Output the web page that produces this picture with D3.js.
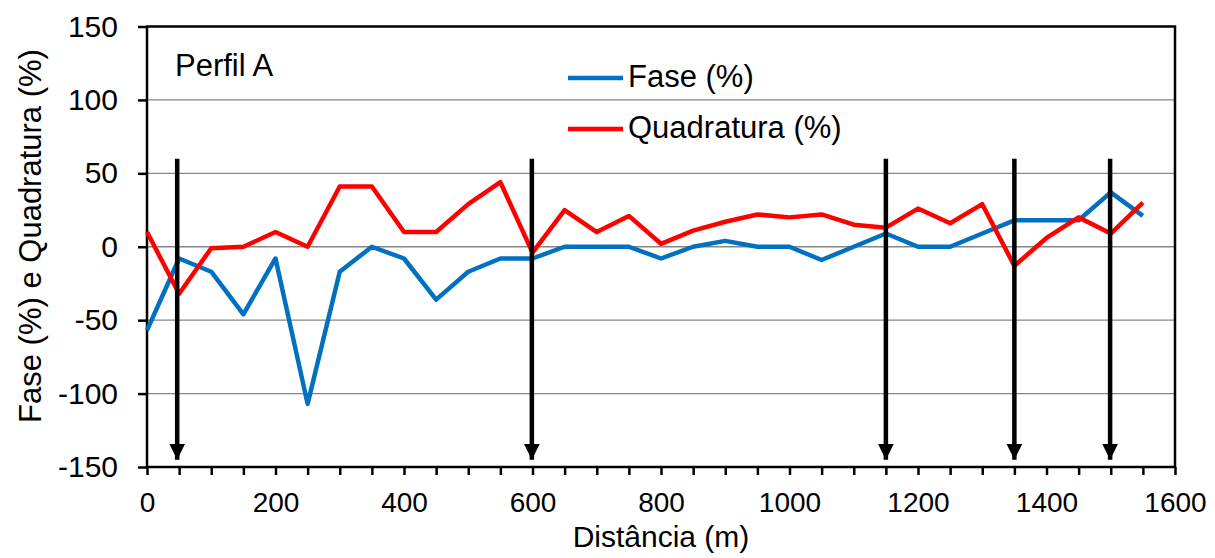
<!DOCTYPE html>
<html>
<head>
<title>Perfil A</title>
<style>
  body { margin: 0; background: #fff; }
  text { font-family: "Liberation Sans", Arial, sans-serif; fill: #000; }
  .grid line { stroke: #868686; stroke-width: 1.3px; }
  .axis line { stroke: #000; stroke-width: 2.5px; }
  .axis path { display: none; }
  .line { fill: none; stroke-width: 4.5px; stroke-linejoin: round; }
</style>
</head>
<body>
<script src="https://d3js.org/d3.v7.min.js"></script>
<script>
// distancia (m), a cada 50 m
var distancia = d3.range(0, 1551, 50);
var fase = [-57, -8, -17, -46, -8, -107, -17, 0, -8, -36, -17, -8, -8, 0, 0, 0,
            -8, 0, 4, 0, 0, -9, 0, 9, 0, 0, 9, 18, 18, 18, 37, 21];
var quadratura = [10, -32, -1, 0, 10, 0, 41, 41, 10, 10, 29, 44, -4, 25, 10, 21,
                  2, 11, 17, 22, 20, 22, 15, 13, 26, 16, 29, -13, 6, 20, 9, 30];
var setas = [47, 599, 1150, 1350, 1499];   // posicao das setas (m)
var setaTopo = 60, setaPonta = -145;
var yTicks = [-150, -100, -50, 0, 50, 100, 150];
var xTicks = d3.range(0, 1601, 50);
var series = [
  {name: "Fase (%)", values: fase, color: "#0070C0"},
  {name: "Quadratura (%)", values: quadratura, color: "#FF0000"}
];

var W = 1215, H = 558;
var margin = {top: 26.5, right: 40, bottom: 91, left: 147};
var width = W - margin.left - margin.right,
    height = H - margin.top - margin.bottom;

var svg = d3.select("body").append("svg")
    .attr("width", W).attr("height", H);
var g = svg.append("g")
    .attr("transform", "translate(" + margin.left + "," + margin.top + ")");

var x = d3.scaleLinear().domain([0, 1600]).range([0, width]);
var y = d3.scaleLinear().domain([-150, 150]).range([height, 0]);

// grade horizontal
g.append("g").attr("class", "grid")
  .selectAll("line").data(yTicks.slice(1, -1)).enter().append("line")
    .attr("x1", 0).attr("x2", width)
    .attr("y1", function (d) { return y(d); })
    .attr("y2", function (d) { return y(d); });

// eixos (hifen simples no sinal negativo, como no original)
var gy = g.append("g").attr("class", "axis")
    .call(d3.axisLeft(y).tickValues(yTicks).tickSize(9).tickSizeOuter(0).tickPadding(20)
      .tickFormat(function (d) { return String(d); }));
gy.selectAll("text").style("font-size", "30px");

var gx = g.append("g").attr("class", "axis")
    .attr("transform", "translate(0," + height + ")")
    .call(d3.axisBottom(x).tickValues(xTicks).tickSize(8).tickSizeOuter(0).tickPadding(17)
      .tickFormat(function (d) { return d % 200 === 0 ? String(d) : ""; }));
gx.selectAll("text").style("font-size", "28px");

// moldura
g.append("rect")
    .attr("width", width).attr("height", height)
    .attr("fill", "none").attr("stroke", "#000").attr("stroke-width", 2.5);

// linhas
var line = d3.line()
    .x(function (d, i) { return x(distancia[i]); })
    .y(function (d) { return y(d); });

series.forEach(function (s) {
  g.append("path")
      .datum(s.values)
      .attr("class", "line")
      .attr("stroke", s.color)
      .attr("d", line);
});

// setas
svg.append("defs").append("marker")
    .attr("id", "seta")
    .attr("viewBox", "0 0 10 10")
    .attr("refX", 10).attr("refY", 5)
    .attr("markerUnits", "userSpaceOnUse")
    .attr("markerWidth", 16).attr("markerHeight", 16)
    .attr("orient", "auto")
  .append("path")
    .attr("d", "M0,0L10,5L0,10Z")
    .attr("fill", "#000");

g.selectAll(".seta").data(setas).enter().append("line")
    .attr("class", "seta")
    .attr("x1", function (d) { return x(d); })
    .attr("x2", function (d) { return x(d); })
    .attr("y1", y(setaTopo))
    .attr("y2", y(setaPonta))
    .attr("stroke", "#000")
    .attr("stroke-width", 4.5)
    .attr("marker-end", "url(#seta)");

// titulo interno
g.append("text")
    .attr("x", 28).attr("y", 49.5)
    .style("font-size", "31px")
    .text("Perfil A");

// legenda
var leg = g.selectAll(".leg").data(series).enter().append("g")
    .attr("transform", function (d, i) { return "translate(421," + (51.5 + i * 51) + ")"; });
leg.append("line")
    .attr("x1", 0).attr("x2", 55)
    .attr("stroke", function (d) { return d.color; })
    .attr("stroke-width", 4.5);
leg.append("text")
    .attr("x", 60).attr("y", 9)
    .style("font-size", "31px")
    .text(function (d) { return d.name; });

// titulos dos eixos
svg.append("text")
    .attr("x", margin.left + width / 2).attr("y", 547)
    .attr("text-anchor", "middle")
    .style("font-size", "30px")
    .text("Distância (m)");

svg.append("text")
    .attr("transform", "translate(41,236) rotate(-90)")
    .attr("text-anchor", "middle")
    .style("font-size", "31px")
    .text("Fase (%) e Quadratura (%)");
</script>
</body>
</html>
